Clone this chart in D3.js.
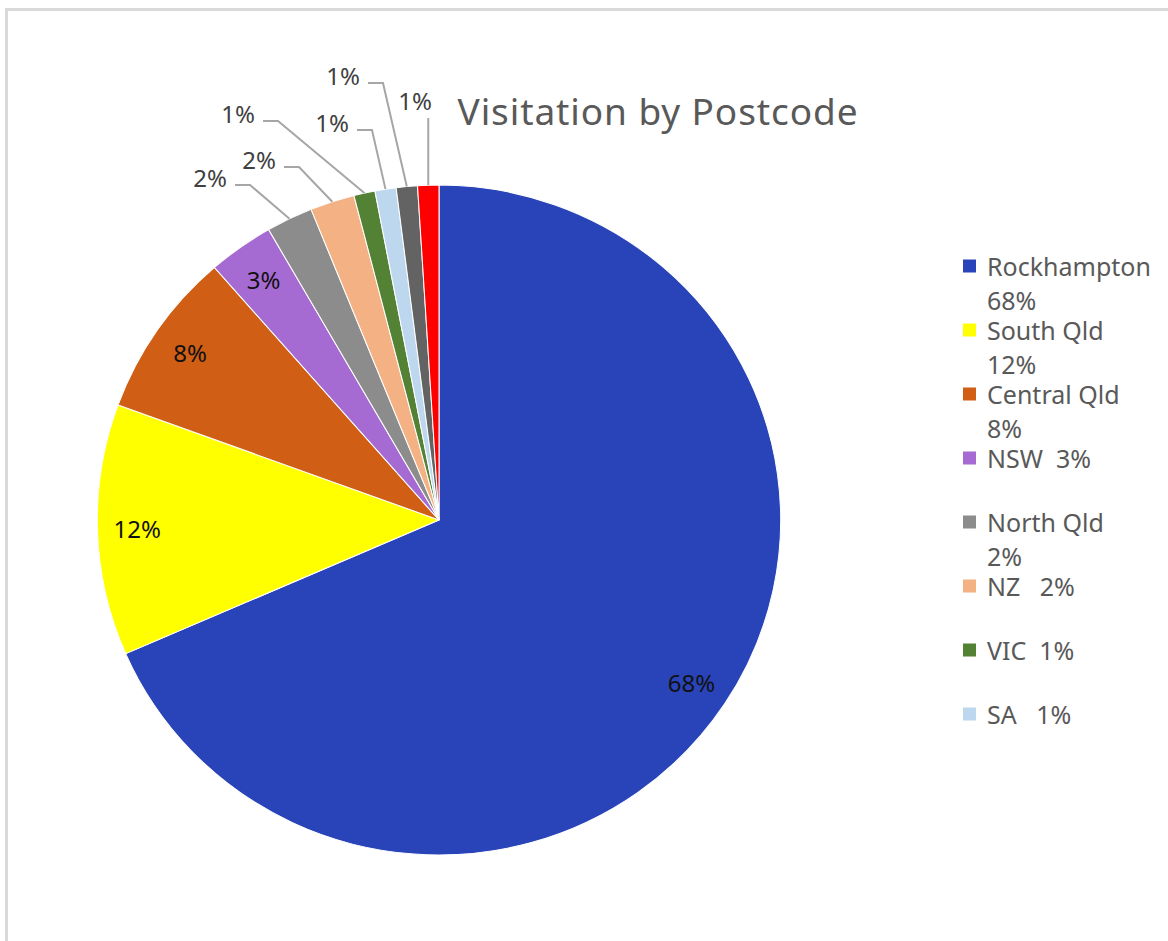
<!DOCTYPE html>
<html>
<head>
<meta charset="utf-8">
<script src="https://cdn.jsdelivr.net/npm/d3@7"></script>
<style>
  body { margin: 0; background: #fff; }
  svg { display: block; }
</style>
</head>
<body>
<div id="chart"></div>
<script>
// 1: DATA
const regions = ["Rockhampton", "South Qld", "Central Qld", "NSW", "North Qld", "NZ", "VIC", "SA", "WA", "Other"];
const shares = [68.4, 12.1, 8.0, 3.1, 2.2, 2.1, 1.0, 1.0, 1.0, 1.0];
const legendNames = ["Rockhampton 68%", "South Qld 12%", "Central Qld 8%", "NSW  3%", "North Qld 2%", "NZ   2%", "VIC  1%", "SA   1%"];
const sliceColors = ["#2944b8", "#ffff00", "#d05e14", "#a66bd3", "#8c8c8c", "#f4b183", "#548235", "#bdd7ee", "#636363", "#ff0000"];

// callout label spots for the thin slices (relative to pie centre)
const calloutSpots = {
    4: { x: -229, y: -343 },
    5: { x: -180, y: -361 },
    6: { x: -201, y: -407 },
    7: { x: -107, y: -398 },
    8: { x: -96, y: -445 },
    9: { x: -24, y: -420 }
};

const W = 1168, H = 941;
const cx = 439, cy = 520, R = 335;

const svg = d3.select("#chart").append("svg")
    .attr("width", W)
    .attr("height", H);

// chart frame
svg.append("rect")
    .attr("x", 6.5).attr("y", 9.5)
    .attr("width", W + 20).attr("height", H + 20)
    .attr("fill", "#fff")
    .attr("stroke", "#d9d9d9")
    .attr("stroke-width", 3);

const data = regions.map((r, i) => ({ name: r, value: shares[i], i: i }));
const total = d3.sum(shares);
const pct = d3.format(".0%");

const pie = d3.pie().value(d => d.value).sort(null);
const arcs = pie(data);
const arc = d3.arc().innerRadius(0).outerRadius(R);
const labelArc = d3.arc().innerRadius(296).outerRadius(296);
const edgeArc = d3.arc().innerRadius(R).outerRadius(R);

const g = svg.append("g")
    .attr("transform", `translate(${cx},${cy}) scale(1.02,1)`);

g.selectAll("path.slice")
    .data(arcs)
    .enter()
    .append("path")
    .attr("class", "slice")
    .attr("d", arc)
    .attr("fill", d => sliceColors[d.data.i])
    .attr("stroke", "#fff")
    .attr("stroke-width", 1);

// labels layer (no horizontal stretch on text)
const lg = svg.append("g").attr("transform", `translate(${cx},${cy})`);

const inside = arcs.filter(d => !calloutSpots[d.data.i]);
const outside = arcs.filter(d => calloutSpots[d.data.i]);

lg.selectAll("text.inlabel")
    .data(inside)
    .enter()
    .append("text")
    .attr("class", "inlabel")
    .attr("x", d => labelArc.centroid(d)[0] * 1.02)
    .attr("y", d => labelArc.centroid(d)[1])
    .attr("text-anchor", "middle")
    .attr("dominant-baseline", "central")
    .style("font-family", "'Noto Sans', sans-serif")
    .style("font-size", "24px")
    .style("fill", "#111")
    .text(d => pct(d.data.value / total));

// callout leader lines
outside.forEach(d => {
    const spot = calloutSpots[d.data.i];
    const edge = edgeArc.centroid(d);
    const ex = edge[0] * 1.02, ey = edge[1];
    const lineY = spot.y + 8;
    let pts;
    if (Math.abs(spot.x - ex) < 20) {
        pts = [[ex, spot.y + 18], [ex, ey]];
    } else {
        const sx = spot.x + 25;
        pts = [[sx, lineY], [sx + 15, lineY], [ex, ey]];
    }
    lg.append("path")
        .attr("d", d3.line()(pts))
        .attr("fill", "none")
        .attr("stroke", "#a6a6a6")
        .attr("stroke-width", 2);

    lg.append("text")
        .attr("x", spot.x)
        .attr("y", spot.y)
        .attr("text-anchor", "middle")
        .attr("dominant-baseline", "central")
        .style("font-family", "'Noto Sans', sans-serif")
        .style("font-size", "24px")
        .style("fill", "#404040")
        .text(pct(d.data.value / total));
});

// title
svg.append("text")
    .attr("x", 658)
    .attr("y", 110)
    .attr("text-anchor", "middle")
    .attr("dominant-baseline", "central")
    .style("font-family", "'Noto Sans', sans-serif")
    .style("font-size", "37px")
    .style("letter-spacing", "0.9px")
    .style("fill", "#595959")
    .text("Visitation by Postcode");

// legend
const legend = svg.append("g").attr("transform", "translate(963, 266)");
const maxW = 155;
legendNames.forEach((name, i) => {
    const item = legend.append("g").attr("transform", `translate(0, ${i * 64})`);
    item.append("rect")
        .attr("x", 0).attr("y", -6.5)
        .attr("width", 13).attr("height", 13)
        .attr("fill", sliceColors[i]);
    const t = item.append("text")
        .attr("x", 24)
        .attr("y", 0)
        .attr("dominant-baseline", "central")
        .style("font-family", "'Noto Sans', sans-serif")
        .style("font-size", "25px")
        .style("fill", "#595959")
        .style("white-space", "pre");
    // wrap on the last word if the line is too wide
    const parts = name.split(/ (?=\S+$)/);
    const first = t.append("tspan").attr("x", 24).text(name);
    if (first.node().getComputedTextLength() > maxW) {
        first.text(parts[0]);
        t.append("tspan").attr("x", 24).attr("dy", 34).text(parts[1]);
    }
});
</script>
</body>
</html>
